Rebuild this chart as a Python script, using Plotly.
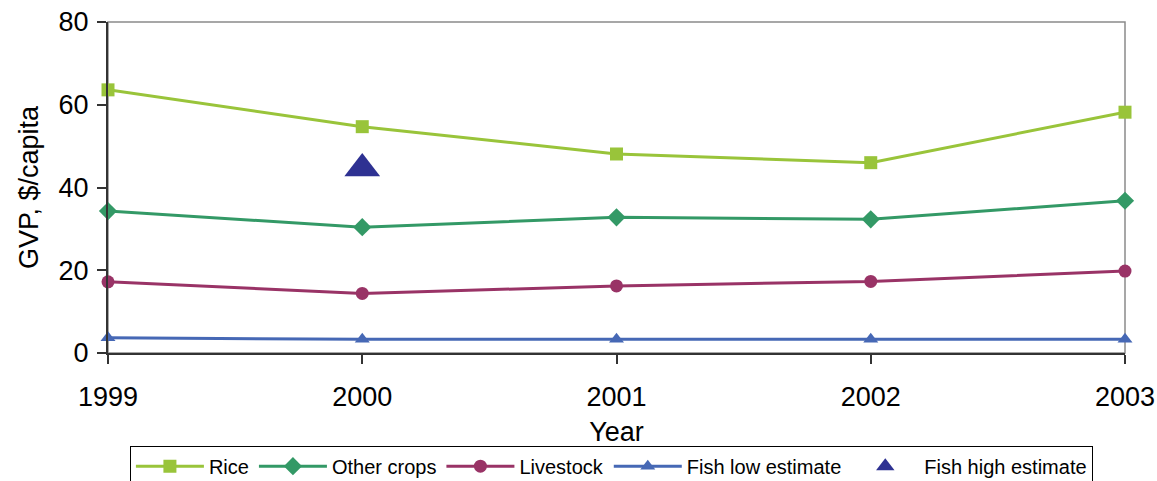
import plotly.graph_objects as go

years = [1999, 2000, 2001, 2002, 2003]
rice = [63.6, 54.7, 48.1, 46.0, 58.2]
other_crops = [34.3, 30.4, 32.8, 32.3, 36.8]
livestock = [17.2, 14.4, 16.2, 17.3, 19.8]
fish_low = [3.7, 3.3, 3.3, 3.3, 3.3]
fish_high_year = [2000]
fish_high = [44.6]
y_ticks = [0, 20, 40, 60, 80]

FONT = "Liberation Sans, Arial, sans-serif"

fig = go.Figure()
series = [
    ("Rice", rice, "#99C43A", "square", 13),
    ("Other crops", other_crops, "#339966", "diamond", 14),
    ("Livestock", livestock, "#993366", "circle", 13),
    ("Fish low estimate", fish_low, "#4668B5", "triangle-up", 13),
]
for name, vals, col, sym, sz in series:
    fig.add_trace(go.Scatter(
        x=years, y=vals, name=name, mode="lines+markers",
        line=dict(color=col, width=3),
        marker=dict(symbol=sym, size=sz, color=col),
        cliponaxis=False,
    ))
fig.add_trace(go.Scatter(
    x=fish_high_year, y=fish_high, name="Fish high estimate", mode="markers",
    marker=dict(symbol="triangle-up", size=31, color="#2E3192"),
    cliponaxis=False,
))

fig.add_shape(type="rect", xref="x domain", yref="y domain", x0=0, x1=1, y0=0, y1=1,
              line=dict(color="#8a8a8a", width=1.5), layer="below")

fig.update_layout(
    width=1157, height=481,
    margin=dict(l=108, r=32, t=22, b=128, autoexpand=False),
    paper_bgcolor="white", plot_bgcolor="white",
    font=dict(family=FONT, color="black"),
    showlegend=True,
    legend=dict(
        orientation="h", x=0.495, xanchor="center", y=-0.28, yanchor="top",
        bordercolor="black", borderwidth=1, font=dict(size=20, family=FONT),
        itemwidth=68, tracegroupgap=0,
    ),
    xaxis=dict(
        range=[1999, 2003], tickvals=years, ticktext=[str(y) for y in years],
        showgrid=False, zeroline=False, showline=True, linecolor="#333333", linewidth=2,
        ticks="outside", ticklen=9, tickcolor="#333333", tickwidth=1.5,
        tickfont=dict(size=27), ticklabelstandoff=10, automargin=False,
        ticklabeloverflow="allow",
        title=dict(text="Year", font=dict(size=27), standoff=11),
    ),
    yaxis=dict(
        range=[0, 80], tickvals=y_ticks,
        showgrid=False, zeroline=False, showline=True, linecolor="#333333", linewidth=2,
        ticks="outside", ticklen=9, tickcolor="#333333", tickwidth=1.5,
        tickfont=dict(size=27), ticklabelstandoff=3, automargin=False,
        ticklabeloverflow="allow",
        title=dict(text="GVP, $/capita", font=dict(size=27), standoff=12),
    ),
)

fig.write_html(
    "out.html",
    config={"displayModeBar": False},
    post_script="document.body.style.margin='0';document.body.style.overflow='hidden';",
)
